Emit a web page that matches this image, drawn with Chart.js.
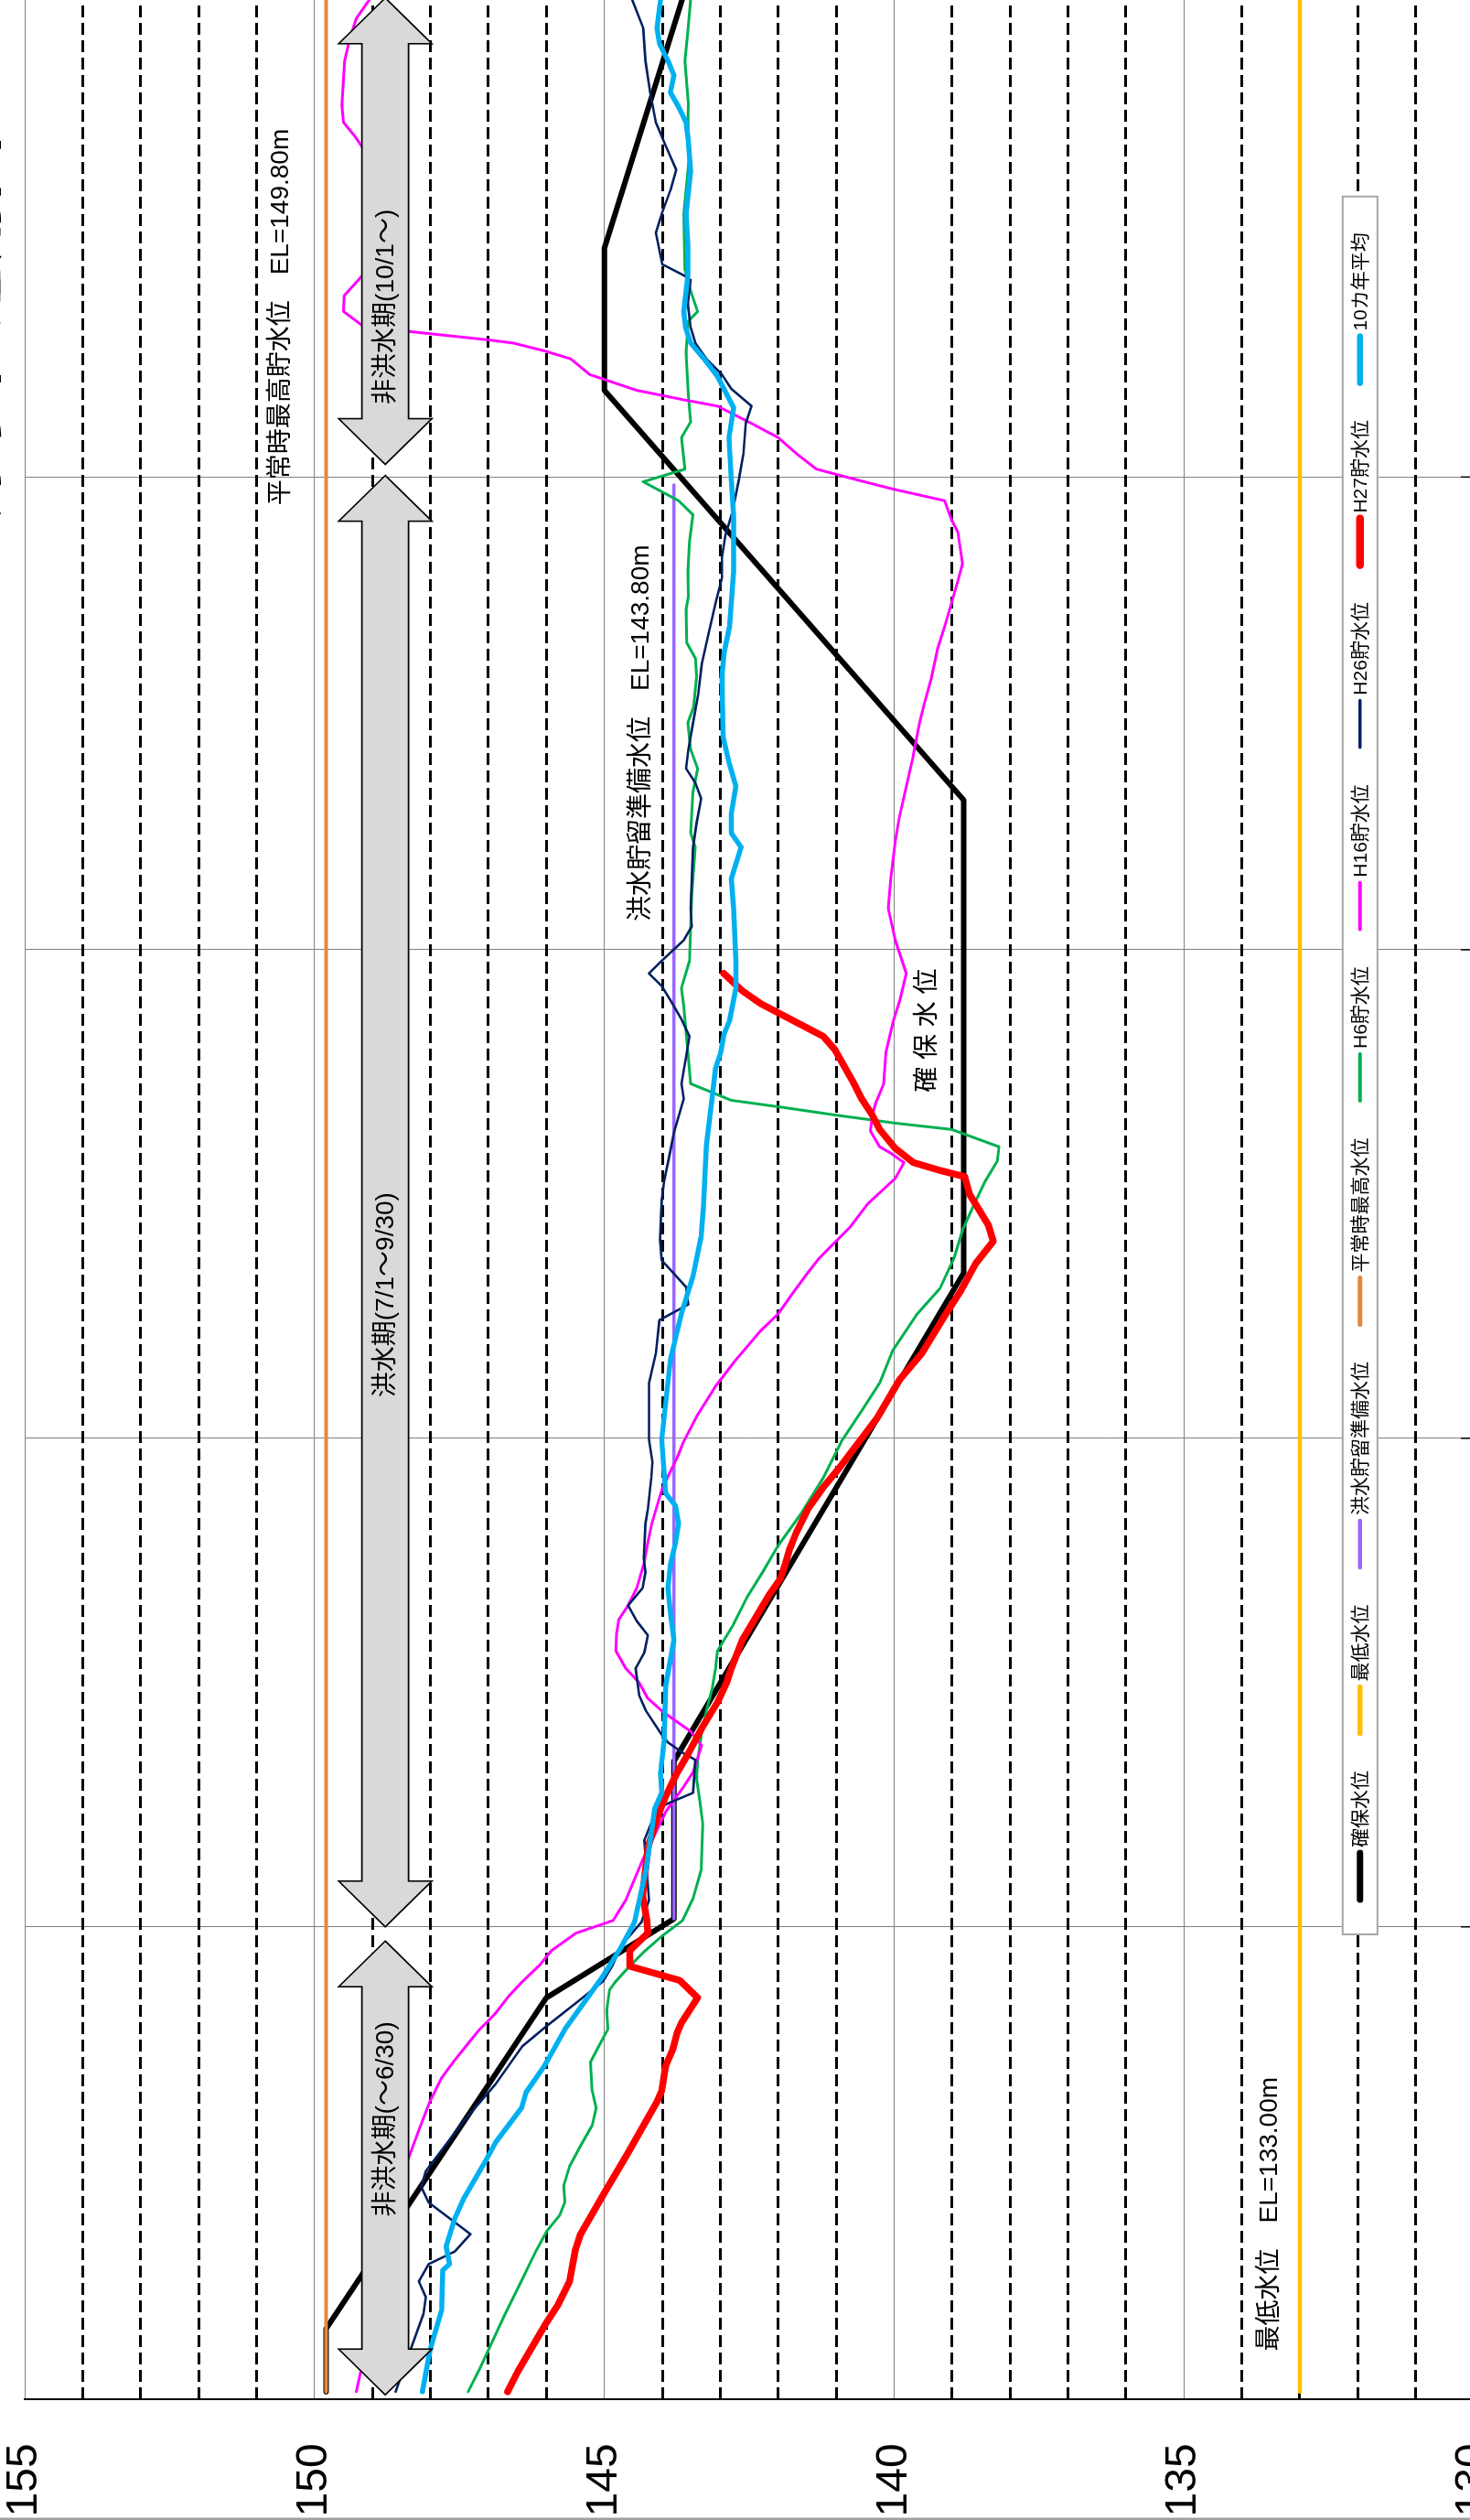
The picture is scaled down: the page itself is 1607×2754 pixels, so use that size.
<!DOCTYPE html>
<html><head><meta charset="utf-8">
<script src="https://cdn.jsdelivr.net/npm/chart.js@4.4.1/dist/chart.umd.min.js"></script>
<style>
html,body{margin:0;padding:0;width:1607px;height:2754px;overflow:hidden;background:#fff;}
#wrap{position:absolute;left:0;top:0;width:3290px;height:1680px;transform-origin:0 0;transform:translate(0px,2754px) rotate(-90deg);}
canvas{display:block;}
</style></head><body>
<div id="wrap"><canvas id="c" width="3290" height="1680"></canvas></div>
<script>
// ---- axis / category data (x = days from 6/1, category centres at +0.5) ----
const monthBoundaries = [30, 61, 92, 122, 153];   // 7/1, 8/1, 9/1, 10/1, 11/1
const levelMin = 130, levelMax = 155, levelStep = 5, dashStep = 1;
const dayMax = 183;

// ---- series values ----
const kakuhoDays   = [0.5, 4.5, 25.5, 30.5, 40.5, 71.5, 101.5, 127.5, 136.5, 156.5];
const kakuhoLevels = [149.8, 149.8, 146.0, 143.8, 143.8, 138.8, 138.8, 145.0, 145.0, 143.3];

const minimumDays = [0.5, 183];
const minimumLevels = [133.0, 133.0];

const floodPrepDays = [30.5, 121.5];
const floodPrepLevels = [143.8, 143.8];

const normalMaxDays = [0.5, 183];
const normalMaxLevels = [149.8, 149.8];

const h6Days = [0.5,1.95,5.3,7.6,9.35,10.7,11.7,12.55,13.6,14.8,16.1,17.4,18.5,19.6,21.4,22.4,23.5,24.7,26.0,26.55,27.4,28.4,29.4,30.4,31.8,33.6,36.5,37.9,39.4,40.6,42.3,43.7,45.1,46.4,47.5,49.2,50.9,52.5,54.2,56.2,58.5,60.8,62.9,64.5,66.6,68.9,70.5,72.4,74.2,75.75,77.3,78.6,79.5,80.6,81.0,81.5,82.0,82.45,83.5,85.5,88.4,89.55,91.3,95.5,98.5,99.4,102.0,103.5,104.7,106.4,107.4,109.35,110.5,111.5,113.6,114.4,116.0,117.9,119.6,120.5,121.7,122.5,124.5,125.5,127.2,129.9,131.9,132.5,133.8,135.2,138.7,141.4,142.5,144.5,145.7,148.4,150.3,152.3,155.0];
const h6Levels = [147.35,147.15,146.73,146.42,146.19,145.99,145.77,145.68,145.70,145.60,145.41,145.21,145.14,145.21,145.24,145.10,144.94,144.96,144.91,144.80,144.59,144.32,144.01,143.65,143.47,143.33,143.30,143.35,143.41,143.39,143.32,143.24,143.14,143.08,143.05,142.77,142.54,142.27,142.00,141.61,141.22,140.91,140.53,140.25,140.02,139.60,139.21,138.97,138.82,138.63,138.43,138.22,138.19,139.01,139.98,140.99,141.92,142.81,143.51,143.56,143.63,143.67,143.53,143.49,143.43,143.51,143.47,143.39,143.51,143.56,143.46,143.41,143.43,143.58,143.59,143.55,143.56,143.53,143.47,143.72,144.33,143.61,143.67,143.51,143.55,143.59,143.55,143.39,143.51,143.61,143.63,143.56,143.53,143.56,143.55,143.61,143.56,143.51,143.5];

const h16Days = [0.5,15.0,17.1,18.9,20.4,21.5,22.6,23.5,24.5,25.6,26.5,27.6,28.5,29.6,30.4,31.7,34.4,37.3,38.9,39.8,41.5,42.4,43.1,43.7,44.5,45.5,46.4,47.5,48.6,49.5,50.4,51.5,53.0,54.4,55.6,57.7,58.9,59.8,60.8,62.5,64.3,65.8,67.8,68.9,70.1,71.5,72.4,73.4,74.4,75.9,77.5,78.5,79.1,79.5,80.5,81.6,82.35,83.5,85.5,87.4,88.8,90.5,92.6,94.6,96.5,98.9,100.4,102.35,104.3,106.4,107.6,109.2,111.1,112.5,114.0,115.4,116.5,118.5,119.3,120.5,121.2,121.8,122.5,123.5,124.5,125.4,126.5,126.9,127.5,128.5,129.5,130.0,130.5,130.7,131.2,131.6,132.5,133.5,134.8,138.7,142.9,143.7,144.5,145.6,148.4,149.7,151.1,152.3,155.0];
const h16Levels = [149.28,148.41,148.20,148.01,147.81,147.59,147.35,147.15,146.88,146.65,146.42,146.11,145.91,145.49,144.85,144.63,144.32,143.94,143.63,143.47,143.32,143.51,143.78,144.01,144.25,144.40,144.63,144.80,144.79,144.75,144.59,144.44,144.32,144.25,144.18,144.01,143.86,143.74,143.63,143.39,143.08,142.77,142.31,142.00,141.77,141.49,141.30,141.03,140.76,140.45,139.98,139.83,140.06,140.25,140.41,140.37,140.31,140.18,140.14,140.02,139.90,139.79,139.98,140.10,140.06,139.98,139.91,139.79,139.67,139.56,139.48,139.36,139.25,139.13,139.01,138.90,138.82,138.90,139.01,139.13,139.98,140.62,141.34,141.69,142.00,142.46,143.05,143.63,144.44,145.25,145.58,146.03,146.57,147.0,148.28,149.17,149.50,149.49,149.17,148.9,149.17,149.32,149.50,149.53,149.48,149.40,149.28,149.05,148.6];

const h26Days = [0.5,3.2,5.45,6.5,7.5,8.6,9.4,10.5,12.5,13.5,14.5,17.7,20.0,22.4,23.6,25.4,26.55,27.6,28.8,30.3,31.7,35.5,37.5,37.9,38.5,40.6,41.0,41.7,42.3,43.7,44.7,46.4,47.4,48.5,49.4,50.4,51.5,52.5,53.4,55.6,56.5,58.5,59.5,60.9,64.5,66.4,68.5,69.5,70.6,72.3,73.6,76.1,77.3,79.25,80.4,82.55,83.5,86.5,87.6,88.8,89.7,90.5,91.3,92.6,93.5,94.6,98.5,100.0,101.6,102.6,103.5,104.7,106.4,108.2,110.1,112.1,114.0,115.6,116.9,118.3,119.8,121.8,123.5,125.4,126.5,127.6,128.5,129.5,130.5,131.5,133.0,134.5,134.8,135.5,137.5,138.7,140.2,141.5,143.0,144.5,146.4,148.4,150.5,152.3,155.0];
const h26Levels = [148.60,148.34,148.12,148.08,148.20,148.03,147.58,147.31,148.03,148.16,148.08,147.42,146.88,146.42,146.03,145.41,145.02,144.85,144.71,144.36,144.23,144.31,144.09,143.86,143.47,143.43,143.63,143.90,144.03,144.28,144.40,144.46,144.31,144.25,144.44,144.59,144.34,144.29,144.32,144.29,144.25,144.19,144.17,144.23,144.23,144.11,144.05,143.55,143.59,144.01,144.04,144.01,143.97,143.86,143.80,143.63,143.67,143.53,143.67,143.86,144.01,144.23,144.01,143.63,143.49,143.51,143.47,143.41,143.33,143.43,143.59,143.55,143.47,143.38,143.32,143.20,143.08,142.97,142.97,142.91,142.79,142.68,142.60,142.56,142.46,142.81,142.97,143.24,143.43,143.51,143.56,143.51,143.63,144.00,144.11,144.01,143.86,143.76,143.94,144.11,144.21,144.29,144.33,144.52,144.8];

const h27Days = [0.5,1.8,4.7,6.0,7.5,9.5,10.5,13.0,15.6,18.9,19.6,21.2,22.2,23.3,23.9,25.5,26.6,27.5,28.5,29.6,30.5,32.0,35.0,36.9,38.3,39.8,41.0,42.6,44.3,45.5,46.4,48.2,50.1,51.1,52.1,53.0,54.0,55.0,56.5,57.9,59.1,60.8,62.3,64.7,66.4,68.75,70.3,72.1,73.5,74.5,75.6,76.5,77.6,78.0,78.5,79.4,80.6,81.6,82.55,83.7,85.7,86.5,88.6,89.4,90.5];
const h27Levels = [146.67,146.49,146.03,145.80,145.60,145.50,145.41,145.02,144.60,144.09,144.01,143.94,143.82,143.74,143.67,143.39,143.70,144.56,144.56,144.25,144.27,144.34,144.25,144.09,143.94,143.74,143.55,143.32,143.04,142.89,142.81,142.62,142.31,142.15,141.96,141.88,141.80,141.69,141.49,141.22,140.95,140.60,140.29,139.91,139.52,139.13,138.86,138.59,138.29,138.37,138.55,138.70,138.78,139.21,139.67,139.98,140.25,140.39,140.56,140.72,141.03,141.22,142.31,142.62,142.94];

const avg10Days = [0.5,3.1,5.65,8.2,8.6,9.7,11.4,12.8,15.2,16.3,18.5,19.5,21.2,23.5,25.7,26.9,28.7,30.3,33.6,37.5,38.5,39.8,41.8,45.3,48.2,49.9,51.5,53.0,54.4,55.6,56.7,57.5,60.9,66.0,68.9,71.3,73.8,75.7,79.6,82.0,84.5,85.5,86.6,87.5,89.55,91.3,94.6,96.5,98.5,99.4,100.6,102.4,103.9,105.5,109.4,110.9,112.5,116.0,119.5,121.8,124.5,126.4,128.4,129.5,130.5,131.5,132.5,134.8,136.7,138.7,141.4,143.3,144.5,145.5,146.4,147.5,148.4,149.5,150.5,152.3,155.0];
const avg10Levels = [148.14,148.01,147.81,147.79,147.67,147.73,147.59,147.42,147.04,146.88,146.43,146.35,146.03,145.68,145.25,145.02,144.71,144.48,144.28,144.13,144.01,144.03,143.97,143.94,143.80,143.86,143.90,143.86,143.77,143.72,143.77,143.94,144.01,143.86,143.67,143.47,143.33,143.29,143.24,143.16,143.08,142.99,142.94,142.84,142.73,142.73,142.77,142.81,142.64,142.81,142.81,142.73,142.85,142.95,142.97,142.93,142.84,142.77,142.77,142.81,142.85,142.77,143.05,143.28,143.51,143.60,143.63,143.56,143.56,143.59,143.51,143.55,143.59,143.72,143.86,143.80,143.90,144.05,144.09,144.03,144.0];

// ---- annotations (text + data-unit anchors) ----
const periodSpans = [[0.3, 29.1], [30.0, 122.1], [122.8, 152.4]];
const periodLabels = ['非洪水期(～6/30)', '洪水期(7/1～9/30)', '非洪水期(10/1～)'];
const periodLabelDays = [17.8, 70.1, 132.8];
const periodLevel = 148.78;
const noteTexts = ['平常時最高貯水位　EL=149.80m', '洪水貯留準備水位　EL=143.80m', '確 保 水 位', '最低水位　EL=133.00m'];
const noteDays = [120.2, 93.8, 82.95, 3.07];
const noteLevels = [150.58, 144.36, 139.42, 133.51];
const titleText = '貯水位運用図';

// ---- styles ----
const seriesDefs = [
  {label:'確保水位', days:kakuhoDays, levels:kakuhoLevels, color:'#000000', width:6},
  {label:'最低水位', days:minimumDays, levels:minimumLevels, color:'#FFC000', width:4.5},
  {label:'洪水貯留準備水位', days:floodPrepDays, levels:floodPrepLevels, color:'#9966FF', width:3.5},
  {label:'平常時最高水位', days:normalMaxDays, levels:normalMaxLevels, color:'#E2883E', width:4},
  {label:'H6貯水位', days:h6Days, levels:h6Levels, color:'#00B050', width:3},
  {label:'H16貯水位', days:h16Days, levels:h16Levels, color:'#FF00FF', width:3},
  {label:'H26貯水位', days:h26Days, levels:h26Levels, color:'#002060', width:2.6},
  {label:'H27貯水位', days:h27Days, levels:h27Levels, color:'#FF0000', width:7.5},
  {label:'10カ年平均', days:avg10Days, levels:avg10Levels, color:'#00B0F0', width:5.5}
];

const FONT = '"Liberation Sans","Noto Sans CJK JP",sans-serif';
const CW = 3290, CH = 1680;
const AREA_LEFT = 131.6, AREA_TOP = 27.1, AREA_BOTTOM = 1611, PX_PER_DAY = 17.222;

const datasets = seriesDefs.map((s, i) => ({
  label: s.label,
  data: s.days.map((d, k) => ({x: d, y: s.levels[k]})),
  borderColor: s.color,
  backgroundColor: s.color,
  borderWidth: s.width,
  pointRadius: 0,
  tension: 0,
  fill: false,
  borderJoinStyle: 'round',
  borderCapStyle: 'round',
  order: seriesDefs.length - i
}));

function doubleArrow(ctx, x1, x2, yc) {
  const H = 50, HW = 51, BW = 25.5;
  ctx.beginPath();
  ctx.moveTo(x1, yc);
  ctx.lineTo(x1 + H, yc - HW);
  ctx.lineTo(x1 + H, yc - BW);
  ctx.lineTo(x2 - H, yc - BW);
  ctx.lineTo(x2 - H, yc - HW);
  ctx.lineTo(x2, yc);
  ctx.lineTo(x2 - H, yc + HW);
  ctx.lineTo(x2 - H, yc + BW);
  ctx.lineTo(x1 + H, yc + BW);
  ctx.lineTo(x1 + H, yc + HW);
  ctx.closePath();
  ctx.fillStyle = '#D9D9D9';
  ctx.fill();
  ctx.lineWidth = 1.6;
  ctx.strokeStyle = '#000';
  ctx.lineJoin = 'miter';
  ctx.stroke();
}

const annotPlugin = {
  id: 'annot',
  afterDatasetsDraw(chart) {
    const {ctx} = chart;
    const xs = chart.scales.x, ys = chart.scales.y;
    ctx.save();
    const yc = ys.getPixelForValue(periodLevel);
    periodSpans.forEach((sp, i) => {
      doubleArrow(ctx, xs.getPixelForValue(sp[0]), xs.getPixelForValue(sp[1]), yc);
      ctx.fillStyle = '#000';
      ctx.font = '28px ' + FONT;
      ctx.textAlign = 'center';
      ctx.textBaseline = 'middle';
      ctx.fillText(periodLabels[i], xs.getPixelForValue(periodLabelDays[i]), yc + 1);
    });
    ctx.font = '28px ' + FONT;
    ctx.textAlign = 'left';
    ctx.textBaseline = 'middle';
    ctx.fillStyle = '#000';
    noteTexts.forEach((t, i) => {
      ctx.fillText(t, xs.getPixelForValue(noteDays[i]), ys.getPixelForValue(noteLevels[i]));
    });
    ctx.restore();
  },
  afterDraw(chart) {
    const {ctx} = chart;
    const xs = chart.scales.x, ys = chart.scales.y;
    const area = chart.chartArea;
    ctx.save();
    // month tick marks at the date axis
    ctx.strokeStyle = '#000';
    ctx.lineWidth = 1.5;
    monthBoundaries.forEach(m => {
      const px = xs.getPixelForValue(m);
      ctx.beginPath();
      ctx.moveTo(px, area.bottom - 14);
      ctx.lineTo(px, area.bottom + 14);
      ctx.stroke();
    });
    // legend box
    const bx1 = xs.getPixelForValue(29.52), bx2 = xs.getPixelForValue(139.8);
    const by1 = ys.getPixelForValue(132.26), by2 = ys.getPixelForValue(131.66);
    ctx.fillStyle = '#fff';
    ctx.fillRect(bx1, by1, bx2 - bx1, by2 - by1);
    ctx.strokeStyle = '#A6A6A6';
    ctx.lineWidth = 2;
    ctx.strokeRect(bx1, by1, bx2 - bx1, by2 - by1);
    const cy = (by1 + by2) / 2;
    let x = bx1 + 35;
    ctx.font = '21px ' + FONT;
    ctx.textAlign = 'left';
    ctx.textBaseline = 'middle';
    chart.data.datasets.forEach(ds => {
      ctx.strokeStyle = ds.borderColor;
      ctx.lineWidth = Math.max(ds.borderWidth + 1, 3.4);
      ctx.lineCap = 'round';
      ctx.beginPath();
      ctx.moveTo(x + 3, cy);
      ctx.lineTo(x + 54, cy);
      ctx.stroke();
      ctx.fillStyle = '#000';
      ctx.fillText(ds.label, x + 60, cy + 1);
      x += 60 + ctx.measureText(ds.label).width + 37.5;
    });
    // outer frame line
    ctx.fillStyle = '#A0A0A0';
    ctx.fillRect(0, 0, 2.5, CH);
    // title (mostly outside the visible area)
    ctx.fillStyle = '#000';
    ctx.font = 'bold 70px ' + FONT;
    ctx.textAlign = 'center';
    ctx.textBaseline = 'alphabetic';
    ctx.fillText(titleText, 2395, -5);
    ctx.restore();
  }
};

new Chart(document.getElementById('c'), {
  type: 'line',
  data: {datasets},
  options: {
    responsive: false,
    animation: false,
    devicePixelRatio: 1,
    layout: {padding: {top: AREA_TOP, left: 0, bottom: 0, right: CW - (AREA_LEFT + dayMax * PX_PER_DAY)}},
    plugins: {legend: {display: false}, tooltip: {enabled: false}},
    scales: {
      x: {
        type: 'linear', min: 0, max: dayMax,
        afterBuildTicks: s => { s.ticks = monthBoundaries.map(v => ({value: v})); },
        afterFit: s => { s.height = CH - AREA_BOTTOM; },
        ticks: {display: false},
        grid: {color: '#808080', lineWidth: 1, drawTicks: false},
        border: {display: false}
      },
      y: {
        type: 'linear', position: 'left', min: levelMin, max: levelMax,
        afterFit: s => { s.width = AREA_LEFT; },
        ticks: {stepSize: levelStep, padding: 0, color: '#000', font: {family: FONT, size: 48, lineHeight: 1}},
        grid: {color: '#808080', lineWidth: 1, drawTicks: true, tickLength: 48, tickColor: 'rgba(0,0,0,0)'},
        border: {display: true, color: '#000', width: 2}
      },
      yd: {
        type: 'linear', position: 'left', min: levelMin, max: levelMax,
        afterFit: s => { s.width = 0; },
        ticks: {display: false, stepSize: dashStep},
        grid: {
          color: c => (Math.round(c.tick.value) % levelStep === 0 ? 'rgba(0,0,0,0)' : '#000'),
          lineWidth: 3, drawTicks: false
        },
        border: {display: false, dash: [13, 6]}
      }
    }
  },
  plugins: [annotPlugin]
});
</script></body></html>
